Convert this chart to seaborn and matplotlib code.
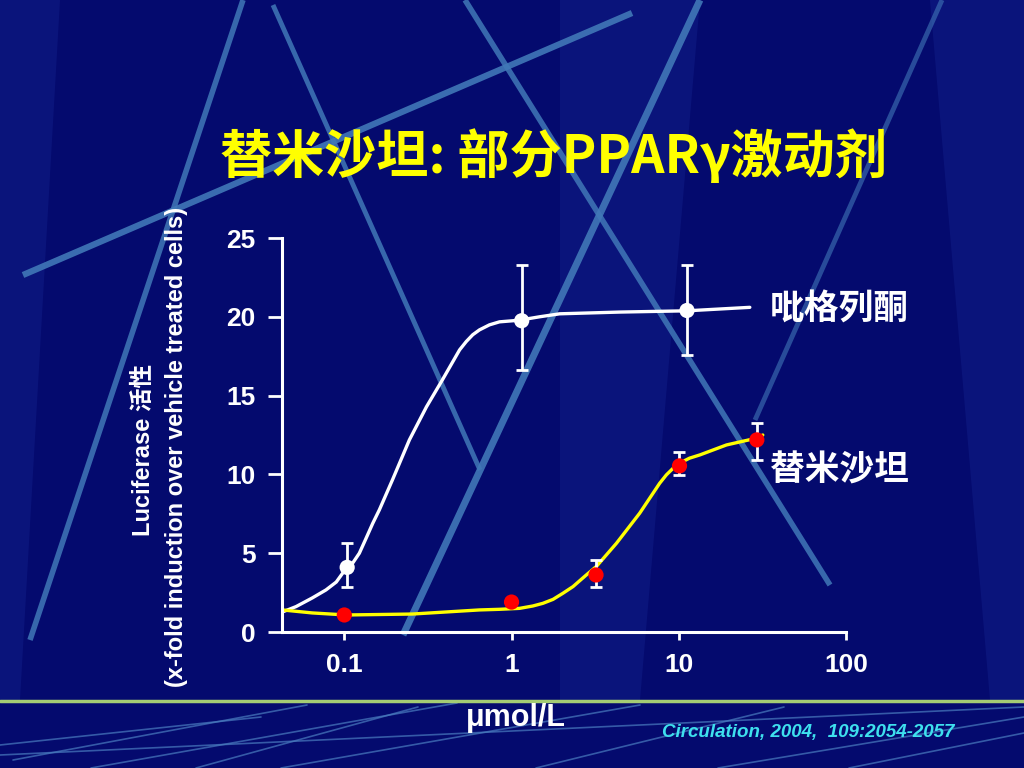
import numpy as np
import pandas as pd
import seaborn as sns
import matplotlib.pyplot as plt
from matplotlib.ticker import NullLocator

# measured points, umol/L vs fold induction
pio_conc = [0.104, 1.15, 11.2]
pio_mean = [4.1, 19.75, 20.4]
pio_lo = [2.86, 16.6, 17.6]
pio_hi = [5.65, 23.3, 23.3]

telmi_conc = [0.1, 1.0, 3.2, 10.1, 29.3]
telmi_mean = [1.08, 1.9, 3.62, 10.54, 12.19]
# only the last three telmisartan points have error bars
telmi_err_conc = [3.2, 10.1, 29.3]
telmi_err_mean = [3.62, 10.54, 12.19]
telmi_lo = [2.86, 9.97, 10.92]
telmi_hi = [4.57, 11.43, 13.27]

# fitted curves
pio_fit_x = [0.0426, 0.0514, 0.0643, 0.0777, 0.0895, 0.104, 0.112, 0.123, 0.135, 0.148,
             0.162, 0.194, 0.245, 0.310, 0.386, 0.489, 0.536, 0.586, 0.643, 0.738,
             0.847, 1.02, 1.15, 1.47, 1.94, 4.43, 11.2, 26.6]
pio_fit_y = [1.27, 1.61, 2.16, 2.67, 3.17, 4.13, 4.36, 5.0, 5.95, 6.90,
             7.75, 9.65, 12.19, 14.29, 16.0, 17.9, 18.43, 18.86, 19.17, 19.49,
             19.68, 19.75, 19.81, 20.0, 20.19, 20.3, 20.38, 20.6]
telmi_fit_x = [0.0426, 0.0643, 0.1028, 0.255, 0.643, 0.847, 1.117, 1.34, 1.54, 1.77,
               2.03, 2.33, 2.80, 3.21, 4.24, 5.84, 7.69, 8.43, 9.25, 10.1,
               11.6, 13.4, 19.3, 29.2, 31.8]
telmi_fit_y = [1.40, 1.21, 1.08, 1.14, 1.40, 1.44, 1.50, 1.65, 1.82, 2.07,
               2.46, 2.88, 3.62, 4.15, 5.63, 7.54, 9.44, 9.97, 10.39, 10.71,
               11.03, 11.24, 11.87, 12.30, 12.5]

xticks = [0.1, 1, 10, 100]
xtick_labels = ['0.1', '1', '10', '100']
yticks = [0, 5, 10, 15, 20, 25]

navy = '#040a6e'
sns.set_theme(style='dark', rc={'figure.facecolor': navy, 'axes.facecolor': 'none'})
plt.rcParams['font.family'] = ['Liberation Sans', 'Noto Sans CJK SC', 'DejaVu Sans']
plt.rcParams['font.weight'] = 'bold'

fig = plt.figure(figsize=(10.24, 7.68), dpi=100)

# slide template decoration (pixel coords)
bg = fig.add_axes([0, 0, 1, 1], zorder=-10)
bg.set_xlim(0, 1024)
bg.set_ylim(768, 0)
bg.axis('off')
bands = [
    [(0, 0), (60, 0), (20, 700), (0, 700)],
    [(930, 0), (1024, 0), (1024, 700), (990, 700)],
    [(560, 0), (700, 0), (640, 700), (560, 700)],
]
for b in bands:
    bg.add_patch(plt.Polygon(b, closed=True, color='#1a2c9a', alpha=0.3, lw=0))
streaks = [
    ((23, 275), (632, 13), 4.5, 0.9),
    ((243, 0), (30, 640), 4.0, 0.85),
    ((273, 5), (480, 470), 3.5, 0.85),
    ((700, 0), (403, 635), 5.0, 0.9),
    ((465, 0), (830, 585), 4.0, 0.85),
    ((942, 0), (755, 420), 3.5, 0.6),
]
for (x0, y0), (x1, y1), w, a in streaks:
    bg.plot([x0, x1], [y0, y1], color='#4178b8', lw=w, alpha=a, solid_capstyle='butt')
thin = [
    ((13, 760), (307, 705)), ((91, 768), (457, 703)), ((0, 745), (261, 717)),
    ((281, 768), (640, 705)), ((196, 768), (418, 707)), ((0, 755), (1024, 707)),
    ((536, 768), (784, 707)), ((718, 768), (1024, 717)), ((849, 768), (1024, 733)),
]
for (x0, y0), (x1, y1) in thin:
    bg.plot([x0, x1], [y0, y1], color='#4a7dc0', lw=1.2, alpha=0.7)
bg.plot([0, 1024], [701, 701], color='#a4cc74', lw=2.5)

ax = fig.add_axes([282 / 1024, 136 / 768, 564 / 1024, 394 / 768])

pio_df = pd.DataFrame({'conc': pio_fit_x, 'fold': pio_fit_y})
telmi_df = pd.DataFrame({'conc': telmi_fit_x, 'fold': telmi_fit_y})
sns.lineplot(data=pio_df, x='conc', y='fold', ax=ax, color='white', lw=2.4,
             estimator=None, sort=False, solid_joinstyle='round')
sns.lineplot(data=telmi_df, x='conc', y='fold', ax=ax, color='#ffff00', lw=2.4,
             estimator=None, sort=False, solid_joinstyle='round')

pio_mean_a = np.array(pio_mean)
ax.errorbar(pio_conc, pio_mean, yerr=[pio_mean_a - np.array(pio_lo), np.array(pio_hi) - pio_mean_a],
            fmt='none', ecolor='white', elinewidth=2, capsize=4, capthick=2, zorder=4)
tm = np.array(telmi_err_mean)
ax.errorbar(telmi_err_conc, telmi_err_mean, yerr=[tm - np.array(telmi_lo), np.array(telmi_hi) - tm],
            fmt='none', ecolor='white', elinewidth=2, capsize=4, capthick=2, zorder=4)
sns.scatterplot(x=pio_conc, y=pio_mean, ax=ax, color='white', s=120, edgecolor='none', zorder=5)
sns.scatterplot(x=telmi_conc, y=telmi_mean, ax=ax, color='#ff0000', s=120, edgecolor='none', zorder=5)

ax.set_xscale('log')
ax.set_xlim(0.0424, 100)
ax.set_ylim(0, 25)
ax.set_xticks(xticks)
ax.set_xticklabels(xtick_labels)
ax.xaxis.set_minor_locator(NullLocator())
ax.set_yticks(yticks)
ax.set_xlabel('')
ax.set_ylabel('')
ax.grid(False)
for s in ['top', 'right']:
    ax.spines[s].set_visible(False)
for s in ['left', 'bottom']:
    ax.spines[s].set_color('white')
    ax.spines[s].set_linewidth(2.2)
ax.tick_params(axis='y', direction='out', length=10, width=2, pad=9, colors='white',
               labelsize=19, left=True)
ax.tick_params(axis='x', direction='out', length=6, width=2, pad=9, colors='white',
               labelsize=19, bottom=True)
for lab in ax.get_xticklabels() + ax.get_yticklabels():
    lab.set_fontweight('bold')

fig.text(554 / 1024, 1 - 157 / 768, '替米沙坦: 部分PPARγ激动剂', color='#ffff00',
         fontsize=37.5, fontweight='heavy', ha='center', va='center',
         family=['Noto Sans CJK SC', 'DejaVu Sans'])
fig.text(143 / 1024, 1 - 450 / 768, 'Luciferase 活性', color='white', fontsize=17,
         fontweight='bold', rotation=90, ha='center', va='center')
fig.text(176 / 1024, 1 - 447 / 768, '(x-fold induction over vehicle treated cells)',
         color='white', fontsize=17, fontweight='bold', rotation=90, ha='center', va='center')
fig.text(770 / 1024, 1 - 309 / 768, '吡格列酮', color='white', fontsize=25,
         ha='left', va='center', family=['Noto Sans CJK SC'])
fig.text(770 / 1024, 1 - 470 / 768, '替米沙坦', color='white', fontsize=25,
         ha='left', va='center', family=['Noto Sans CJK SC'])
fig.text(516 / 1024, 1 - 718 / 768, 'μmol/L', color='white', fontsize=22,
         fontweight='bold', ha='center', va='center')
fig.text(808 / 1024, 1 - 733 / 768, 'Circulation, 2004,  109:2054-2057', color='#3ee0ee',
         fontsize=13.5, fontweight='bold', fontstyle='italic', ha='center', va='center')

plt.savefig('out.png', dpi=100, facecolor=navy)
